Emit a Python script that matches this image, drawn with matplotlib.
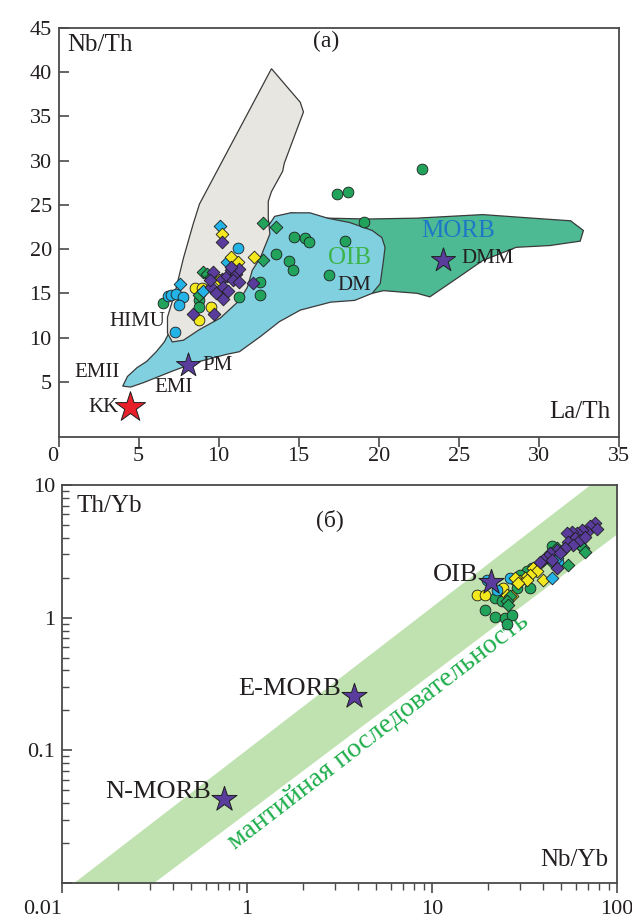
import numpy as np
import matplotlib
matplotlib.use("Agg")
import matplotlib.pyplot as plt
from matplotlib.patches import Polygon
from matplotlib.ticker import FixedLocator, LogLocator, NullFormatter

plt.rcParams['font.family'] = ['Liberation Serif', 'DejaVu Serif']

# ---------------- panel (a): Nb/Th vs La/Th ----------------
# field outlines (La/Th, Nb/Th)
himu_x = [13.3, 15.1, 15.3, 14.1, 14.0, 13.3, 13.1, 13.1, 13.2, 12.6, 12.1, 11.8, 11.3, 10.1,
          8.8, 7.8, 7.1, 6.8, 6.8, 7.3, 7.8, 8.4, 8.8]
himu_y = [40.4, 36.6, 35.5, 29.7, 28.8, 26.5, 25.4, 23.5, 21.7, 19.0, 17.6, 15.7, 14.2, 12.2,
          10.9, 9.7, 9.5, 10.5, 12.3, 15.3, 19.0, 22.8, 25.1]

oib_x = [4.0, 4.3, 4.9, 5.5, 6.1, 6.6, 7.0, 10.0, 13.1, 13.5, 14.5, 15.7, 16.8, 18.2, 19.6, 20.2,
         20.4, 20.3, 20.1, 19.6, 18.5, 17.0, 15.1, 13.8, 12.6, 11.3, 10.5, 8.6, 7.1, 5.3, 4.5]
oib_y = [4.5, 5.6, 6.6, 7.3, 8.4, 9.5, 10.9, 14.0, 22.6, 23.7, 24.1, 24.1, 23.5, 23.0, 22.1, 21.3,
         20.2, 18.7, 16.1, 15.0, 14.2, 14.0, 13.1, 11.8, 10.1, 8.4, 8.1, 7.2, 6.2, 4.9, 4.4]

morb_x = [14.5, 16.8, 19.3, 22.4, 26.5, 29.6, 32.0, 32.8, 32.6, 30.7, 28.6, 26.5, 24.9, 23.2,
          22.4, 20.3, 19.6, 15.1]
morb_y = [24.1, 23.5, 23.4, 23.5, 23.9, 23.5, 23.2, 22.1, 20.9, 20.4, 20.2, 18.7, 16.7, 14.6,
          15.0, 15.3, 15.0, 15.3]

a_green_circ_x = [6.5, 8.8, 8.8, 8.8, 11.3, 12.6, 12.6, 13.6, 14.4, 14.65, 14.7, 15.4, 15.65,
                  16.9, 17.9, 17.4, 18.1, 19.1, 22.7]
a_green_circ_y = [13.9, 15.3, 14.2, 13.5, 14.6, 16.3, 14.8, 19.5, 18.7, 17.6, 21.4, 21.2, 20.8,
                  17.1, 20.9, 26.2, 26.4, 23.1, 29.1]
a_green_dia_x = [12.8, 13.6, 12.75, 9.0, 9.25, 9.55, 8.75]
a_green_dia_y = [22.9, 22.5, 18.8, 17.4, 17.2, 16.9, 14.8]
a_yellow_dia_x = [10.2, 10.8, 11.2, 12.2, 10.0]
a_yellow_dia_y = [21.7, 19.1, 18.5, 19.1, 16.5]
a_yellow_circ_x = [8.5, 8.95, 9.5, 8.8]
a_yellow_circ_y = [15.6, 15.6, 13.4, 12.0]
a_cyan_dia_x = [10.1, 10.5, 7.6, 9.05]
a_cyan_dia_y = [22.6, 18.5, 16.0, 15.3]
a_cyan_circ_x = [11.2, 6.85, 7.05, 7.35, 7.8, 7.5, 7.25]
a_cyan_circ_y = [20.1, 14.7, 14.8, 14.9, 14.6, 13.7, 10.6]
a_purple_dia_x = [10.2, 9.65, 10.2, 10.5, 10.8, 11.1, 11.3, 10.9, 10.3, 9.55, 9.85, 10.3, 11.3,
                  12.15, 10.8, 10.6, 9.45, 8.4, 9.7]
a_purple_dia_y = [20.8, 17.4, 16.65, 17.0, 17.6, 17.2, 17.8, 16.5, 15.7, 15.7, 15.0, 14.4, 16.3,
                  16.2, 17.95, 15.3, 16.5, 12.7, 12.7]

a_stars_x = [8.1, 24.0]
a_stars_y = [6.9, 18.8]
kk_x, kk_y = 4.45, 2.1

# ---------------- panel (б): Th/Yb vs Nb/Yb ----------------
b_purple_dia_x = [76.1, 71.5, 77.6, 68.6, 64.4, 60.5, 56.9, 53.5, 59.3, 63.1, 67.1, 54.6, 58.1,
                  52.3, 47.2, 43.4, 41.7, 40.0, 38.4, 49.2, 47.2, 44.4]
b_purple_dia_y = [5.15, 4.92, 4.64, 4.46, 4.59, 4.33, 4.46, 4.33, 3.97, 3.86, 4.09, 3.75, 3.54,
                  3.34, 3.25, 3.06, 2.89, 2.73, 2.65, 3.06, 2.36, 2.73]
b_green_dia_x = [63.1, 65.8, 67.1, 54.6, 47.2, 44.4, 26.4, 25.3, 25.9]
b_green_dia_y = [3.54, 3.34, 3.15, 2.50, 3.34, 2.65, 1.45, 1.33, 1.25]
b_green_circ_x = [44.4, 34.6, 32.5, 29.9, 28.1, 28.7, 33.9, 23.3, 21.9, 19.3, 21.9, 24.8, 26.9,
                  25.3, 23.8]
b_green_circ_y = [3.44, 2.36, 2.23, 2.10, 1.93, 1.67, 1.67, 1.62, 1.41, 1.15, 1.02, 0.99, 1.05,
                  0.89, 1.33]
b_yellow_dia_x = [38.4, 35.3, 36.8, 33.9, 31.8, 29.9, 32.5, 40.0, 28.1, 29.3, 26.9, 25.3]
b_yellow_dia_y = [2.58, 2.36, 2.23, 2.10, 1.98, 1.88, 1.93, 1.93, 1.98, 1.82, 1.45, 1.49]
b_yellow_circ_x = [17.4, 19.3, 24.3]
b_yellow_circ_y = [1.49, 1.47, 1.67]
b_cyan_circ_x = [19.9, 26.4, 22.4, 48.2]
b_cyan_circ_y = [1.93, 1.98, 1.62, 2.65]
b_cyan_dia_x = [51.3, 44.4, 47.2]
b_cyan_dia_y = [3.25, 1.98, 2.81]

ref_names = ['N-MORB', 'E-MORB', 'OIB']
ref_x = [0.75, 3.78, 20.8]
ref_y = [0.043, 0.255, 1.86]

# mantle array edges: Th/Yb = a * (Nb/Yb)^b
array_hi_a, array_hi_b = 10 ** -0.99, 1.075
array_lo_a, array_lo_b = 10 ** -1.467, 1.05

GREEN = '#22a35c'
CYAN = '#23b3e6'
YELLOW = '#f3e71d'
PURPLE = '#5a3c9d'
EDGE = '#1e1e1e'
SPINE = '#4a4a4a'
TXT = '#231f20'


def style_axes(ax, xpad):
    for s in ax.spines.values():
        s.set_color(SPINE)
        s.set_linewidth(1.3)
    ax.tick_params(axis='x', which='both', direction='out', colors=SPINE, labelcolor=TXT,
                   labelsize=16, pad=xpad)
    ax.tick_params(axis='y', which='both', direction='in', colors=SPINE, labelcolor=TXT,
                   labelsize=16, pad=5)
    ax.tick_params(which='major', length=7, width=1.2)
    ax.tick_params(which='minor', length=5, width=1.0)


def scatter_groups(ax, groups):
    for xs, ys, marker, color in groups:
        size = 60 if marker == 'o' else 42
        ax.scatter(xs, ys, s=size, marker=marker, c=color, edgecolors=EDGE, linewidths=0.6,
                   zorder=5)


fig = plt.figure(figsize=(6.32, 9.21), dpi=100)

# ---- top panel
ax1 = fig.add_axes([0.0929, 0.5255, 0.8859, 0.4441])
ax1.set_xlim(0, 35)
ax1.set_ylim(-1.25, 45)
ax1.set_xticks(np.arange(0, 36, 5))
ax1.set_yticks(np.arange(5, 46, 5))
style_axes(ax1, 0)
for lab in ax1.get_xticklabels()[:1]:
    lab.set_horizontalalignment('right')

ax1.add_patch(Polygon(np.column_stack([morb_x, morb_y]), closed=True, fc='#4dba94',
                      ec='#3a3a3a', lw=0.9, zorder=1))
ax1.add_patch(Polygon(np.column_stack([oib_x, oib_y]), closed=True, fc='#80d0e0',
                      ec='#3a3a3a', lw=0.9, zorder=2))
ax1.add_patch(Polygon(np.column_stack([himu_x, himu_y]), closed=True, fc='#e8e6e1',
                      ec='#3a3a3a', lw=0.9, zorder=3))

scatter_groups(ax1, [
    (a_green_circ_x, a_green_circ_y, 'o', GREEN),
    (a_cyan_circ_x, a_cyan_circ_y, 'o', CYAN),
    (a_yellow_circ_x, a_yellow_circ_y, 'o', YELLOW),
    (a_green_dia_x, a_green_dia_y, 'D', GREEN),
    (a_cyan_dia_x, a_cyan_dia_y, 'D', CYAN),
    (a_yellow_dia_x, a_yellow_dia_y, 'D', YELLOW),
    (a_purple_dia_x, a_purple_dia_y, 'D', PURPLE),
])
ax1.scatter(a_stars_x, a_stars_y, s=330, marker='*', c=PURPLE, edgecolors=EDGE,
            linewidths=0.7, zorder=6)
ax1.scatter([kk_x], [kk_y], s=520, marker='*', c='#e8202a', edgecolors=EDGE,
            linewidths=0.7, zorder=6)

ax1.text(0.015, 0.985, 'Nb/Th', transform=ax1.transAxes, ha='left', va='top',
         fontsize=18, color=TXT)
ax1.text(0.985, 0.035, 'La/Th', transform=ax1.transAxes, ha='right', va='bottom',
         fontsize=18, color=TXT)
ax1.text(0.477, 0.966, '(а)', transform=ax1.transAxes, ha='center', va='center',
         fontsize=17, color=TXT)
small = dict(fontsize=15, color=TXT, ha='center', va='center', zorder=7)
ax1.text(4.9, 11.8, 'HIMU', **small)
ax1.text(2.4, 6.1, 'EMII', **small)
ax1.text(7.2, 4.4, 'EMI', **small)
ax1.text(2.8, 2.1, 'KK', **small)
ax1.text(9.9, 6.8, 'PM', **small)
ax1.text(18.5, 15.9, 'DM', **small)
ax1.text(26.8, 18.9, 'DMM', **small)
ax1.text(18.2, 19.0, 'OIB', fontsize=18, color='#3cb44a', ha='center', va='center', zorder=7)
ax1.text(25.0, 22.1, 'MORB', fontsize=18, color='#1f78c6', ha='center', va='center', zorder=7)

# ---- bottom panel
ax2 = fig.add_axes([0.0981, 0.0413, 0.8782, 0.4321])
ax2.set_xscale('log')
ax2.set_yscale('log')
ax2.set_xlim(0.1, 100)
ax2.set_ylim(0.01, 10)
style_axes(ax2, 5)
ax2.xaxis.set_major_locator(FixedLocator([0.1, 1, 10, 100]))
ax2.set_xticklabels(['0.01', '1', '10', '100'])
ax2.get_xticklabels()[0].set_horizontalalignment('right')
ax2.xaxis.set_minor_locator(LogLocator(base=10, subs=np.arange(2, 10)))
ax2.xaxis.set_minor_formatter(NullFormatter())
ax2.yaxis.set_major_locator(FixedLocator([0.01, 0.1, 1, 10]))
ax2.set_yticklabels(['', '0.1', '1', '10'])
ax2.yaxis.set_minor_locator(LogLocator(base=10, subs=np.arange(2, 10)))
ax2.yaxis.set_minor_formatter(NullFormatter())

band_x = np.array([0.1, 100])
ax2.fill_between(band_x, array_lo_a * band_x ** array_lo_b, array_hi_a * band_x ** array_hi_b,
                 color='#bfe2b0', lw=0, zorder=1)

scatter_groups(ax2, [
    (b_green_circ_x, b_green_circ_y, 'o', GREEN),
    (b_yellow_circ_x, b_yellow_circ_y, 'o', YELLOW),
    (b_cyan_circ_x, b_cyan_circ_y, 'o', CYAN),
    (b_yellow_dia_x, b_yellow_dia_y, 'D', YELLOW),
    (b_green_dia_x, b_green_dia_y, 'D', GREEN),
    (b_cyan_dia_x, b_cyan_dia_y, 'D', CYAN),
    (b_purple_dia_x, b_purple_dia_y, 'D', PURPLE),
])
ax2.scatter(ref_x, ref_y, s=360, marker='*', c=PURPLE, edgecolors=EDGE, linewidths=0.7,
            zorder=6)
for name, x, y in zip(ref_names, ref_x, ref_y):
    ax2.annotate(name, (x, y), xytext=(-9, 5), textcoords='offset points', ha='right',
                 va='center', fontsize=19, color=TXT, zorder=7)

ax2.text(5.1, 0.14, 'мантийная последовательность', rotation=37.5, ha='center',
         va='center', fontsize=20, color='#1fae4c', zorder=4)
ax2.text(0.027, 0.975, 'Th/Yb', transform=ax2.transAxes, ha='left', va='top',
         fontsize=18, color=TXT)
ax2.text(0.984, 0.03, 'Nb/Yb', transform=ax2.transAxes, ha='right', va='bottom',
         fontsize=18, color=TXT)
ax2.text(0.483, 0.912, '(б)', transform=ax2.transAxes, ha='center', va='center',
         fontsize=17, color=TXT)

fig.savefig('out.png', dpi=100)
